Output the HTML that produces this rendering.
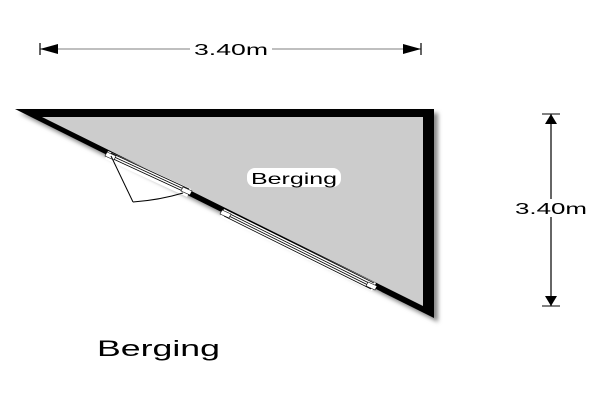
<!DOCTYPE html>
<html><head><meta charset="utf-8"><style>body{margin:0;background:#fff}svg{display:block}</style></head>
<body>
<svg width="600" height="400" viewBox="0 0 600 400" font-family="Liberation Sans, sans-serif">
<defs><filter id="sh" x="-10%" y="-10%" width="130%" height="130%"><feGaussianBlur stdDeviation="2"/></filter></defs>
<!-- shadow -->
<polygon points="19,113 438,113 438,322" fill="#888" filter="url(#sh)"/>
<!-- walls -->
<polygon points="15,109 434,109 434,318" fill="#000"/>
<polygon points="42,117 423,117 423,306" fill="#cccccc"/>
<!-- door opening -->
<polygon points="108,151 191,189 187,197 105,159" fill="#fff"/>
<g stroke="#000" stroke-width="0.8" fill="none">
<line x1="110" y1="155" x2="188" y2="191"/>
<line x1="109" y1="157" x2="187" y2="193"/>
<line x1="111" y1="153" x2="189" y2="189"/>
</g>
<polygon points="107,152 116,156 114,160 105,156" fill="#fff" stroke="#000" stroke-width="0.6"/>
<polygon points="183,187 192,191 190,195 181,191" fill="#fff" stroke="#000" stroke-width="0.6"/>
<polyline points="111,156 133,202" stroke="#000" fill="none" stroke-width="1"/>
<path d="M133,202 Q160,200 183,193" stroke="#000" fill="none" stroke-width="1"/>
<!-- window -->
<polygon points="224,209 376,283 372,291 220,217" fill="#fff"/>
<g stroke="#000" stroke-width="0.8">
<line x1="226" y1="212" x2="373" y2="285"/>
<line x1="225" y1="214" x2="372" y2="287"/>
<line x1="227" y1="210" x2="374" y2="283"/>
<line x1="224" y1="216" x2="371" y2="289"/>
</g>
<polygon points="222,210 231,214 229,218 220,214" fill="#fff" stroke="#000" stroke-width="0.6"/>
<polygon points="368,282 377,286 375,290 366,286" fill="#fff" stroke="#000" stroke-width="0.6"/>
<!-- room label -->
<rect x="247" y="168" width="94" height="19" rx="8" fill="#fff"/>
<text x="251" y="184" font-size="16" textLength="86" lengthAdjust="spacingAndGlyphs">Berging</text>
<!-- top dimension -->
<line x1="40" y1="49" x2="421" y2="49" stroke="#999" stroke-width="1.2"/>
<line x1="40" y1="43" x2="40" y2="55" stroke="#000" stroke-width="1.2"/>
<line x1="421" y1="43" x2="421" y2="55" stroke="#000" stroke-width="1.2"/>
<polygon points="40,49 58,44 58,54" fill="#000"/>
<polygon points="421,49 403,44 403,54" fill="#000"/>
<rect x="190" y="40" width="82" height="18" fill="#fff"/>
<text x="194" y="55" font-size="16" textLength="74" lengthAdjust="spacingAndGlyphs">3.40m</text>
<!-- right dimension -->
<line x1="551" y1="114" x2="551" y2="306" stroke="#000" stroke-width="1.2"/>
<line x1="542" y1="114" x2="560" y2="114" stroke="#000" stroke-width="1"/>
<line x1="542" y1="306" x2="560" y2="306" stroke="#000" stroke-width="1"/>
<polygon points="551,114 545,124 557,124" fill="#000"/>
<polygon points="551,306 545,296 557,296" fill="#000"/>
<rect x="513" y="199" width="76" height="18" fill="#fff"/>
<text x="515" y="214" font-size="16" textLength="72" lengthAdjust="spacingAndGlyphs">3.40m</text>
<!-- bottom label -->
<text x="97" y="356" font-size="22" textLength="123" lengthAdjust="spacingAndGlyphs">Berging</text>
</svg>
</body></html>
